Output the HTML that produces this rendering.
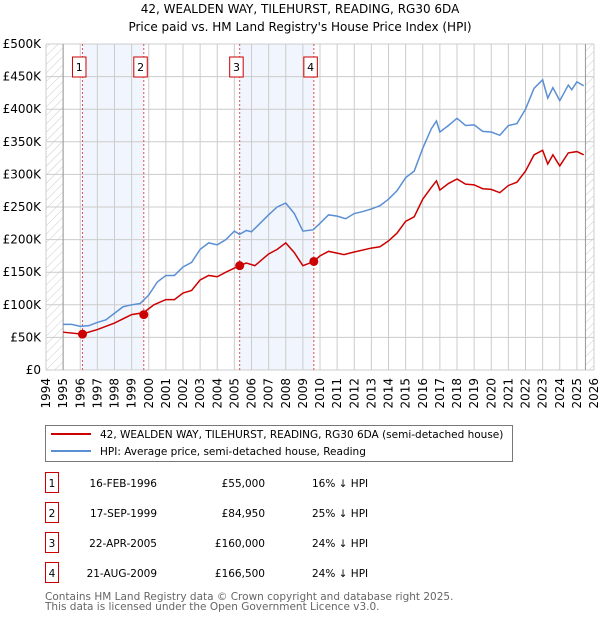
<!DOCTYPE html>
<html><head><meta charset="utf-8"><style>
body{margin:0;background:#fff;font-family:"DejaVu Sans","Liberation Sans",sans-serif;}
svg text{font-family:"DejaVu Sans","Liberation Sans",sans-serif;}
</style></head><body>
<svg id="c" width="600" height="620" xmlns="http://www.w3.org/2000/svg">
<defs><pattern id="hatch" width="6" height="6" patternUnits="userSpaceOnUse" patternTransform="rotate(45)"><line x1="0" y1="0" x2="0" y2="6" stroke="#ccc" stroke-width="1"/></pattern></defs>
<text x="300" y="13" text-anchor="middle" font-size="12">42, WEALDEN WAY, TILEHURST, READING, RG30 6DA</text>
<text x="300" y="31" text-anchor="middle" font-size="12">Price paid vs. HM Land Registry's House Price Index (HPI)</text>
<g id="plot"></g>
<rect x="45.5" y="425.5" width="467" height="36" fill="#fff" stroke="#777"/>
<line x1="51" y1="434" x2="91" y2="434" stroke="#cc0000" stroke-width="2"/>
<text x="100" y="438" font-size="10.5">42, WEALDEN WAY, TILEHURST, READING, RG30 6DA (semi-detached house)</text>
<line x1="51" y1="451" x2="91" y2="451" stroke="#5b8fd4" stroke-width="2"/>
<text x="100" y="455" font-size="10.5">HPI: Average price, semi-detached house, Reading</text>
<g id="table"></g>
<text x="45" y="600" font-size="10.5" fill="#666">Contains HM Land Registry data © Crown copyright and database right 2025.</text>
<text x="45" y="610" font-size="10.5" fill="#666">This data is licensed under the Open Government Licence v3.0.</text>
</svg>
<script>
const hpiYears=[1995,1995.5,1996,1996.5,1997,1997.5,1998,1998.5,1999,1999.5,2000,2000.5,2001,2001.5,2002,2002.5,2003,2003.5,2004,2004.5,2005,2005.3,2005.7,2006,2006.5,2007,2007.5,2008,2008.5,2009,2009.6,2010,2010.5,2011,2011.5,2012,2012.5,2013,2013.5,2014,2014.5,2015,2015.5,2016,2016.5,2016.8,2017,2017.5,2018,2018.5,2019,2019.5,2020,2020.5,2021,2021.5,2022,2022.5,2023,2023.3,2023.6,2024,2024.5,2024.7,2025,2025.4];
const hpiValues=[70,70,67,68,73,77,87,97,100,102,115,135,145,145,158,165,185,195,192,200,213,208,214,212,225,238,250,256,240,213,215,225,238,236,232,240,243,247,252,262,275,295,305,340,370,382,365,375,386,375,376,366,365,360,375,378,400,432,445,417,433,413,437,430,442,436];
const propYears=[1995,1996.1,1997,1998,1999,1999.7,2000.3,2001,2001.5,2002,2002.5,2003,2003.5,2004,2004.5,2005.3,2005.7,2006.2,2007,2007.5,2008,2008.5,2009,2009.6,2010,2010.5,2011.4,2012,2013,2013.5,2014,2014.5,2015,2015.5,2016,2016.5,2016.8,2017,2017.5,2018,2018.5,2019,2019.5,2020,2020.5,2021,2021.5,2022,2022.5,2023,2023.3,2023.6,2024,2024.5,2025,2025.4];
const propValues=[58,55,62,72,85,88,100,108,108,118,122,138,145,143,150,160,164,160,178,185,195,180,160,166,175,182,177,181,187,189,198,210,228,235,262,280,290,276,286,293,285,284,278,277,272,283,288,305,330,337,316,330,313,333,335,330];
const saleYears=[1996.13,1999.71,2005.31,2009.64];
const saleValues=[55,84.95,160,166.5];
const saleLabels=["1","2","3","4"];
const saleDates=["16-FEB-1996","17-SEP-1999","22-APR-2005","21-AUG-2009"];
const salePrices=["£55,000","£84,950","£160,000","£166,500"];
const saleHpi=["16% ↓ HPI","25% ↓ HPI","24% ↓ HPI","24% ↓ HPI"];
const yTicks=[0,50,100,150,200,250,300,350,400,450,500];
const yTickLabels=["£0","£50K","£100K","£150K","£200K","£250K","£300K","£350K","£400K","£450K","£500K"];
const x0=46,x1=594,y0=370,y1=44;
const X=t=>x0+(t-1994)/32*(x1-x0);
const Y=v=>y0-v/500*(y0-y1);
const NS="http://www.w3.org/2000/svg";
const plot=document.getElementById('plot');
function mk(tag,attrs,parent){const e=document.createElementNS(NS,tag);for(const k in attrs)e.setAttribute(k,attrs[k]);(parent||plot).appendChild(e);return e;}
let e;
e=mk('rect',{x:x0,y:y1,width:x1-x0,height:y0-y1,fill:'#fff'});


e=mk('rect',{x:X(1996.13),y:y1,width:X(1999.71)-X(1996.13),height:y0-y1,fill:'#f1f5fd'});


e=mk('rect',{x:X(2005.31),y:y1,width:X(2009.64)-X(2005.31),height:y0-y1,fill:'#f1f5fd'});


e=mk('rect',{x:X(1994),y:y1,width:X(1995)-X(1994),height:y0-y1,fill:'url(#hatch)'});


e=mk('rect',{x:X(2025.5),y:y1,width:X(2026)-X(2025.5),height:y0-y1,fill:'url(#hatch)'});


for(let yr=1994;yr<=2026;yr++){
  e=mk('line',{x1:X(yr),x2:X(yr),y1:y1,y2:y0,stroke:'#cccccc','stroke-width':1});
  
  
  e=mk('text',{x:0,y:0,transform:`translate(${X(yr)+4},${y0+8}) rotate(-90)`,'text-anchor':'end','font-size':'12'});
  e.textContent=String(yr);
  
  
}
yTicks.forEach((v,i)=>{
  e=mk('line',{x1:x0,x2:x1,y1:Y(v),y2:Y(v),stroke:'#cccccc','stroke-width':1});
  
  
  e=mk('text',{x:x0-5,y:Y(v)+4,'text-anchor':'end','font-size':'12'});
  e.textContent=yTickLabels[i];
  
  
});
e=mk('line',{x1:X(1995),x2:X(1995),y1:y1,y2:y0,stroke:'#999'});


e=mk('line',{x1:X(2025.5),x2:X(2025.5),y1:y1,y2:y0,stroke:'#999'});


saleYears.forEach((t,i)=>{
  e=mk('line',{x1:X(t),x2:X(t),y1:y1,y2:y0,stroke:'#e05050','stroke-dasharray':'2,2','stroke-width':1});
  
  
  e=mk('rect',{x:X(t)-10,y:57,width:13.5,height:20,fill:'#fff',stroke:'#cc0000'});
  
  
  e=mk('text',{x:X(t)-3.2,y:71,'text-anchor':'middle','font-size':'11'});
  e.textContent=saleLabels[i];
  
  
});
e=mk('polyline',{points:hpiYears.map((t,i)=>X(t)+','+Y(hpiValues[i])).join(' '),fill:'none',stroke:'#5b8fd4','stroke-width':1.5});


e=mk('polyline',{points:propYears.map((t,i)=>X(t)+','+Y(propValues[i])).join(' '),fill:'none',stroke:'#cc0000','stroke-width':1.5});


saleYears.forEach((t,i)=>{
  e=mk('circle',{cx:X(t),cy:Y(saleValues[i]),r:4.5,fill:'#cc0000'});
  
  
});
const tb=document.getElementById('table');
saleLabels.forEach((l,i)=>{
  const cy=483+i*30;
  e=mk('rect',{x:45.5,y:cy-10.5,width:13,height:20,fill:'#fff',stroke:'#cc0000'},tb);
  
  
  e=mk('text',{x:52,y:cy+4,'text-anchor':'middle','font-size':'10.5'},tb);e.textContent=l;
  
  
  e=mk('text',{x:157,y:cy+4,'text-anchor':'end','font-size':'10.5'},tb);e.textContent=saleDates[i];
  
  
  e=mk('text',{x:265,y:cy+4,'text-anchor':'end','font-size':'10.5'},tb);e.textContent=salePrices[i];
  
  
  e=mk('text',{x:312,y:cy+4,'font-size':'10.5'},tb);e.textContent=saleHpi[i];
  
  
});
</script>
</body></html>
